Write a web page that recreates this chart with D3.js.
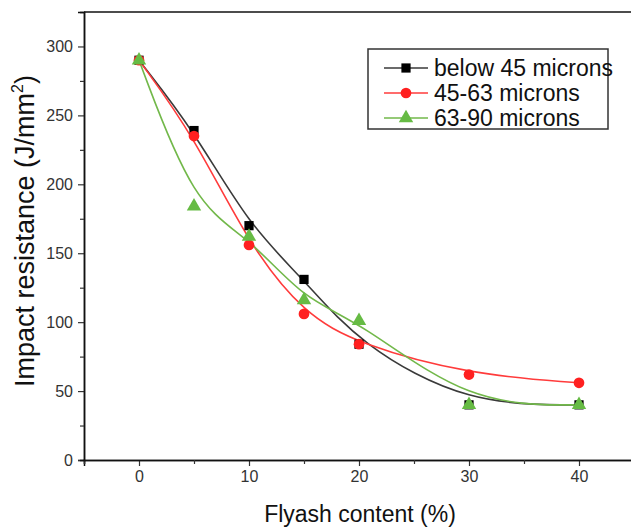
<!DOCTYPE html>
<html><head><meta charset="utf-8">
<script src="https://cdn.jsdelivr.net/npm/d3@7"></script>
<style>
body{margin:0;background:#fff;}
svg{display:block;font-family:"Liberation Sans",Arial,Helvetica,sans-serif;}
</style></head>
<body>
<svg id="chart" width="631" height="528"></svg>
<script>
const flyash = [0, 5, 10, 15, 20, 30, 40];
const below45 = [290, 239, 170, 131, 84, 40, 40];
const mic45_63 = [290, 235, 156, 106, 84, 62, 56];
const mic63_90 = [290, 184, 162, 116, 101, 40, 40];
const seriesNames = ["below 45 microns", "45-63 microns", "63-90 microns"];
const xMajor = [0, 10, 20, 30, 40];
const xMinor = [-5, 5, 15, 25, 35, 45];
const yMajor = [0, 50, 100, 150, 200, 250, 300];
const yMinor = [25, 75, 125, 175, 225, 275];

const svg = d3.select("#chart");
const x = d3.scaleLinear().domain([-5, 45]).range([84, 634]);
const y = d3.scaleLinear().domain([0, 325]).range([460, 12]);

const styles = [
  {line:"#3a3a3a", fill:"#000000", shape:d3.symbolSquare, size:85},
  {line:"#ff3b3b", fill:"#ff2020", shape:d3.symbolCircle, size:90},
  {line:"#72b84a", fill:"#66bb44", shape:d3.symbolTriangle, size:90}
];
const data = [below45, mic45_63, mic63_90];

// frame lines
svg.append("line").attr("x1", x(-5)).attr("x2", x(45)).attr("y1", y(325)).attr("y2", y(325))
  .attr("stroke", "#111").attr("stroke-width", 1.5);

// axes
const gx = svg.append("g").attr("transform", `translate(0,${y(0)})`)
  .call(d3.axisBottom(x).tickValues(xMajor).tickSize(6).tickPadding(5).tickFormat(d3.format("d")));
const gxm = svg.append("g").attr("transform", `translate(0,${y(0)})`)
  .call(d3.axisBottom(x).tickValues(xMinor).tickSize(4).tickFormat(""));
const gy = svg.append("g").attr("transform", `translate(${x(-5)},0)`)
  .call(d3.axisLeft(y).tickValues(yMajor).tickSize(6).tickPadding(5).tickFormat(d3.format("d")));
const gym = svg.append("g").attr("transform", `translate(${x(-5)},0)`)
  .call(d3.axisLeft(y).tickValues(yMinor).tickSize(4).tickFormat(""));
[gx, gxm, gy, gym].forEach(g => {
  g.select(".domain").attr("stroke", "#111").attr("stroke-width", 1.5);
  g.selectAll(".tick line").attr("stroke", "#333").attr("stroke-width", 1.2);
  g.selectAll(".tick text").attr("fill", "#333").style("font-size", "16px")
    .style("font-family", "'Liberation Sans', Arial, sans-serif");
});

// curves
const line = d3.line().x((d, i) => x(flyash[i])).y(d => y(d)).curve(d3.curveBasis);
data.forEach((vals, k) => {
  svg.append("path").datum(vals).attr("d", line)
    .attr("fill", "none").attr("stroke", styles[k].line).attr("stroke-width", 1.6);
});
// markers
data.forEach((vals, k) => {
  svg.append("g").selectAll("path").data(vals).join("path")
    .attr("transform", (d, i) => `translate(${x(flyash[i])},${y(d)})`)
    .attr("d", d3.symbol().type(styles[k].shape).size(styles[k].size))
    .attr("fill", styles[k].fill);
});

// axis titles
svg.append("text").attr("x", 360).attr("y", 522).attr("text-anchor", "middle")
  .style("font-size", "23px").attr("fill", "#111").text("Flyash content (%)");
const yt = svg.append("text").attr("transform", "translate(34,231) rotate(-90)")
  .attr("text-anchor", "middle").style("font-size", "27px").attr("fill", "#111");
yt.append("tspan").text("Impact resistance (J/mm");
yt.append("tspan").attr("dy", -11).style("font-size", "16px").text("2");
yt.append("tspan").attr("dy", 11).text(")");

// legend
const lg = svg.append("g");
lg.append("rect").attr("x", 368).attr("y", 49).attr("width", 240).attr("height", 80)
  .attr("fill", "#fff").attr("stroke", "#333").attr("stroke-width", 1.5);
const rowsY = [68, 93, 118];
seriesNames.forEach((name, k) => {
  lg.append("line").attr("x1", 384).attr("x2", 428).attr("y1", rowsY[k]).attr("y2", rowsY[k])
    .attr("stroke", styles[k].line).attr("stroke-width", 1.6);
  lg.append("path").attr("transform", `translate(406,${rowsY[k]})`)
    .attr("d", d3.symbol().type(styles[k].shape).size(styles[k].size)).attr("fill", styles[k].fill);
  lg.append("text").attr("x", 434).attr("y", rowsY[k] + 8).style("font-size", "23px")
    .attr("fill", "#111").text(name);
});
</script>
</body></html>
